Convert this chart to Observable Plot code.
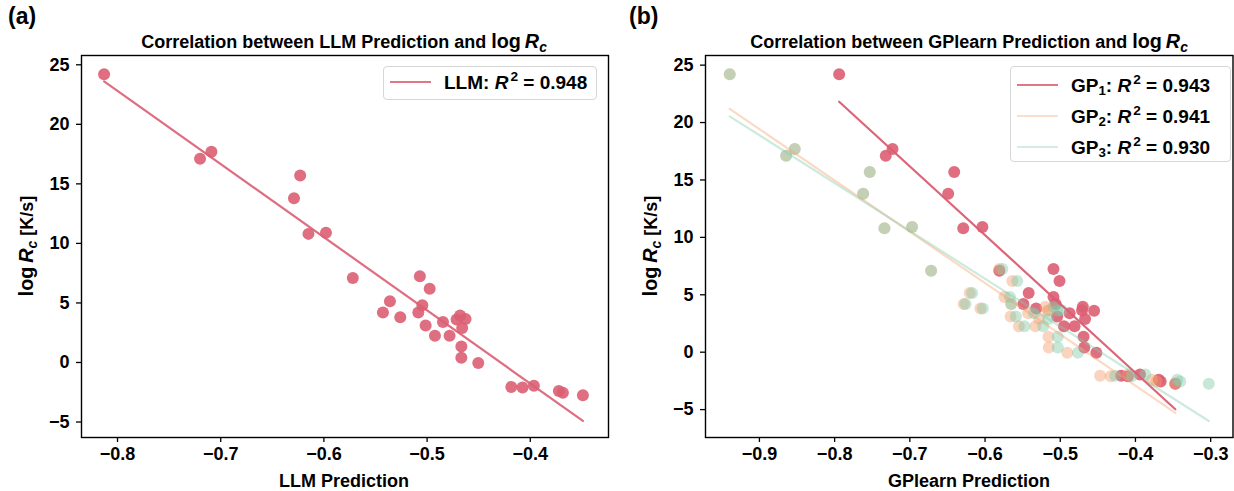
<!DOCTYPE html>
<html>
<head>
<meta charset="utf-8">
<script src="https://cdn.jsdelivr.net/npm/d3@7"></script>
<script src="https://cdn.jsdelivr.net/npm/@observablehq/plot@0.6"></script>
<style>
  html, body { margin: 0; padding: 0; background: #fff; }
  #wrap { position: relative; width: 1234px; height: 491px; overflow: hidden;
          font-family: "Liberation Sans", Arial, sans-serif; font-weight: bold; color: #000; }
  .panel { position: absolute; top: 0; }
  .txt { position: absolute; white-space: nowrap; line-height: 1; }
  .title { font-size: 18px; transform: translate(-50%, -50%); }
  .plabel { font-size: 23px; }
  .xlab { font-size: 18px; transform: translate(-50%, -50%); }
  .ylab { font-size: 18px; transform: translate(-50%, -50%) rotate(-90deg); }
  .math { font-size: 1.1em; }
  sub { font-size: 0.7em; vertical-align: -0.3em; line-height: 0; }
  sup { font-size: 0.72em; vertical-align: 0.55em; line-height: 0; margin-left: 2px; }
  .legend { position: absolute; border: 1px solid #d6d6d6; border-radius: 4px; background: rgba(255,255,255,0.85); box-sizing: border-box; }
  .row { position: absolute; left: 0; height: 0; }
  .sw { position: absolute; left: 6px; width: 41px; height: 2px; top: -1px; }
  .lt { position: absolute; left: 60px; top: 0; transform: translateY(-50%); font-size: 19px; white-space: nowrap; line-height: 1; }
</style>
</head>
<body>
<div id="wrap">
  <div id="pa" class="panel" style="left:0px"></div>
  <div id="pb" class="panel" style="left:617px"></div>
</div>
<script>
// ---------- data ----------
const logRc   = [24.2, 17.7, 17.1, 15.7, 13.8, 10.9, 10.8, 7.25, 7.1, 6.2, 5.15, 4.8, 4.2, 4.2, 3.8, 3.95, 3.6, 3.65, 3.4, 3.1, 2.9, 2.25, 2.25, 1.35, 0.4, -0.05, -1.95, -2.05, -2.1, -2.4, -2.55, -2.75];
const llmPred = [-0.813, -0.709, -0.720, -0.623, -0.629, -0.598, -0.615, -0.507, -0.572, -0.4975, -0.536, -0.5046, -0.5428, -0.5085, -0.526, -0.468, -0.4714, -0.4627, -0.4846, -0.5014, -0.466, -0.4924, -0.4782, -0.4668, -0.4668, -0.4504, -0.3965, -0.4184, -0.4075, -0.3723, -0.3684, -0.349];
const gp1Pred = [-0.794, -0.723, -0.732, -0.641, -0.649, -0.6035, -0.629, -0.509, -0.581, -0.501, -0.542, -0.509, -0.549, -0.506, -0.532, -0.470, -0.455, -0.471, -0.4875, -0.504, -0.467, -0.495, -0.481, -0.469, -0.468, -0.452, -0.394, -0.419, -0.410, -0.369, -0.3665, -0.347];
const gp2Pred = [-0.9395, -0.853, -0.8645, -0.7533, -0.7621, -0.697, -0.7338, -0.581, -0.6717, -0.5637, -0.6203, -0.5742, -0.6283, -0.5652, -0.6061, -0.5197, -0.5167, -0.5153, -0.5427, -0.566, -0.528, -0.555, -0.533, -0.5157, -0.5152, -0.4906, -0.410, -0.447, -0.433, -0.378, -0.372, -0.347];
const gp3Pred = [-0.9395, -0.853, -0.8645, -0.7533, -0.7621, -0.697, -0.7338, -0.577, -0.6717, -0.5572, -0.6172, -0.567, -0.626, -0.5652, -0.603, -0.5086, -0.504, -0.498, -0.535, -0.559, -0.516, -0.5476, -0.5227, -0.5033, -0.5033, -0.4765, -0.387, -0.427, -0.405, -0.3445, -0.3405, -0.3025];

const xTicksA = [-0.8, -0.7, -0.6, -0.5, -0.4];
const xTicksB = [-0.9, -0.8, -0.7, -0.6, -0.5, -0.4, -0.3];
const yTicks  = [-5, 0, 5, 10, 15, 20, 25];

const seriesNamesB = ["GP1", "GP2", "GP3"];
const r2A = ["0.948"];
const r2B = ["0.943", "0.941", "0.930"];

// ---------- styles ----------
const RED = "#DA5E72", ORANGE = "#F5A06E", MINT = "#82CDAA";
const FONT = "Liberation Sans, Arial, sans-serif";

const fmtX = d => (d < 0 ? "\u2212" : "") + Math.abs(d).toFixed(1);
const fmtY = d => (d < 0 ? "\u2212" : "") + Math.abs(d);

const toRows = (xs) => xs.map((x, i) => ({x, y: logRc[i]}));

function basePlot(opts) {
  return Plot.plot({
    width: 617, height: 491,
    marginTop: 55, marginBottom: 54,
    marginLeft: opts.ml, marginRight: opts.mr,
    x: {domain: opts.xd},
    y: {domain: opts.yd},
    style: {fontFamily: FONT, fontSize: "18px", fontWeight: "bold", color: "#000", background: "transparent", overflow: "visible"},
    marks: [
      ...opts.marks,
      Plot.frame({stroke: "#000", strokeWidth: 1.4}),
      Plot.axisX({ticks: opts.xt, tickFormat: fmtX, tickSize: 5, tickPadding: 5, label: null, stroke: "#000", strokeWidth: 1.3}),
      Plot.axisY({ticks: yTicks, tickFormat: fmtY, tickSize: 5, tickPadding: 7, label: null, stroke: "#000", strokeWidth: 1.3})
    ]
  });
}

const llmRows = toRows(llmPred);
const plotA = basePlot({
  ml: 81, mr: 9, xd: [-0.8349, -0.3242], yd: [-6.3, 25.78], xt: xTicksA,
  marks: [
    Plot.linearRegressionY(llmRows, {x: "x", y: "y", stroke: RED, strokeOpacity: 0.9, strokeWidth: 2.2, ci: 0}),
    Plot.dot(llmRows, {x: "x", y: "y", r: 6, fill: RED, fillOpacity: 0.9, stroke: "none"})
  ]
});
document.getElementById("pa").appendChild(plotA);

const g1 = toRows(gp1Pred), g2 = toRows(gp2Pred), g3 = toRows(gp3Pred);
const plotB = basePlot({
  ml: 88, mr: 1.5, xd: [-0.9717, -0.2703], yd: [-7.43, 25.84], xt: xTicksB,
  marks: [
    Plot.dot(g1, {x: "x", y: "y", r: 6, fill: RED, fillOpacity: 0.9, stroke: "none"}),
    Plot.dot(g2, {x: "x", y: "y", r: 6, fill: ORANGE, fillOpacity: 0.45, stroke: "none"}),
    Plot.dot(g3, {x: "x", y: "y", r: 6, fill: MINT, fillOpacity: 0.45, stroke: "none"}),
    Plot.linearRegressionY(g2, {x: "x", y: "y", stroke: ORANGE, strokeOpacity: 0.4, strokeWidth: 2.2, ci: 0}),
    Plot.linearRegressionY(g3, {x: "x", y: "y", stroke: MINT, strokeOpacity: 0.4, strokeWidth: 2.2, ci: 0}),
    Plot.linearRegressionY(g1, {x: "x", y: "y", stroke: RED, strokeOpacity: 0.95, strokeWidth: 2.2, ci: 0})
  ]
});
document.getElementById("pb").appendChild(plotB);

// ---------- text overlays ----------
const wrap = document.getElementById("wrap");
function addText(cls, html, left, top) {
  const d = document.createElement("div");
  d.className = "txt " + cls;
  d.style.left = left + "px"; d.style.top = top + "px";
  d.innerHTML = html;
  wrap.appendChild(d);
  return d;
}
const logR = '<span class="math">log&thinsp;<i>R</i><sub><i>c</i></sub></span>';
addText("plabel", "(a)", 8, 5);
addText("plabel", "(b)", 629, 5);
addText("title", "Correlation between LLM Prediction and " + logR, 344, 42);
addText("title", "Correlation between GPlearn Prediction and " + logR, 969, 42);
addText("xlab", "LLM Prediction", 344, 481);
addText("xlab", "GPlearn Prediction", 969, 481);
addText("ylab", logR + " [K/s]", 27, 246);
addText("ylab", logR + " [K/s]", 651, 246);

function addLegend(left, top, width, height, entries) {
  const box = document.createElement("div");
  box.className = "legend";
  Object.assign(box.style, {left: left + "px", top: top + "px", width: width + "px", height: height + "px"});
  entries.forEach((e, i) => {
    const row = document.createElement("div");
    row.className = "row";
    row.style.top = (e.y) + "px";
    row.innerHTML = `<span class="sw" style="background:${e.color};opacity:${e.op}"></span><span class="lt">${e.label}: <i>R</i><sup>2</sup> = ${e.r2}</span>`;
    box.appendChild(row);
  });
  wrap.appendChild(box);
}
addLegend(383, 66, 214, 34, [{label: "LLM", r2: r2A[0], color: RED, op: 0.85, y: 15}]);
const colsB = [RED, ORANGE, MINT], opsB = [0.85, 0.35, 0.35];
addLegend(1010, 66, 221, 96, seriesNamesB.map((n, i) => ({
  label: "GP<sub>" + n.slice(2) + "</sub>", r2: r2B[i], color: colsB[i], op: opsB[i], y: 18 + i * 31
})));
</script>
</body>
</html>
